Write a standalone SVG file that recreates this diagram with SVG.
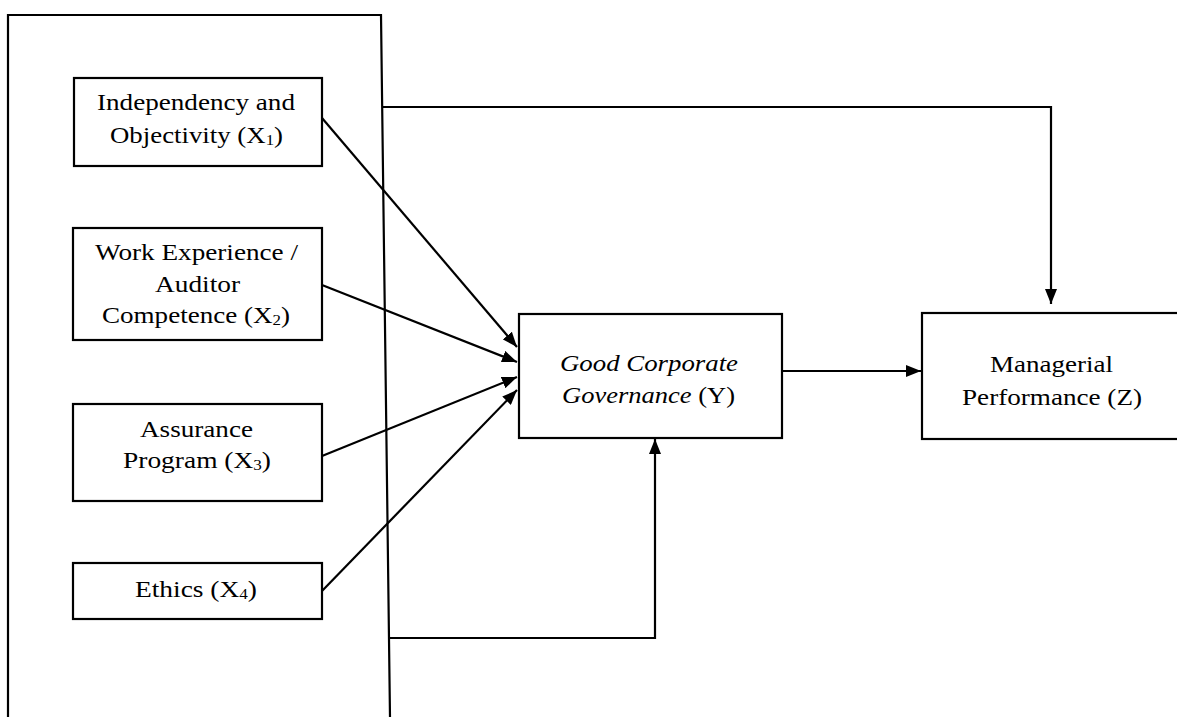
<svg xmlns="http://www.w3.org/2000/svg" width="1177" height="717" viewBox="0 0 1177 717">
<style>
.box{fill:#fff;stroke:#000;stroke-width:2.2}
.ln{fill:none;stroke:#000;stroke-width:2.2}
.t{font-family:"Liberation Serif","Times New Roman",serif;font-size:24px;fill:#000;text-anchor:middle}
.it{font-style:italic}
.sub{font-size:15px}
</style>
<defs>
<marker id="ah" markerUnits="userSpaceOnUse" markerWidth="15" markerHeight="12" viewBox="0 0 15 12" refX="15" refY="6" orient="auto">
<path d="M0,0 L15,6 L0,12 Z" fill="#000"/>
</marker>
</defs>
<rect width="1177" height="717" fill="#fff"/>
<g id="outer">
<path class="ln" d="M8,717 L8,15 L381,15 L390,717"/>
</g>
<g id="connectors">
<line class="ln" x1="322" y1="118" x2="517" y2="347" marker-end="url(#ah)"/>
<line class="ln" x1="322" y1="285" x2="517" y2="362" marker-end="url(#ah)"/>
<line class="ln" x1="322" y1="456" x2="517" y2="377" marker-end="url(#ah)"/>
<line class="ln" x1="322" y1="591" x2="517" y2="390" marker-end="url(#ah)"/>
<polyline class="ln" points="382,107 1051,107 1051,304" marker-end="url(#ah)"/>
<polyline class="ln" points="388,638 655,638 655,439" marker-end="url(#ah)"/>
<line class="ln" x1="782" y1="371" x2="921" y2="371" marker-end="url(#ah)"/>
</g>
<g id="x1">
<rect class="box" x="74" y="78" width="248" height="88"/>
<text class="t" x="196" y="110" textLength="198" lengthAdjust="spacingAndGlyphs">Independency and</text>
<text class="t" x="196.5" y="143" textLength="173" lengthAdjust="spacingAndGlyphs">Objectivity (X<tspan class="sub" dy="2">1</tspan><tspan dy="-2">)</tspan></text>
</g>
<g id="x2">
<rect class="box" x="73" y="228" width="249" height="112"/>
<text class="t" x="196.5" y="260" textLength="203" lengthAdjust="spacingAndGlyphs">Work Experience /</text>
<text class="t" x="197.5" y="292" textLength="85" lengthAdjust="spacingAndGlyphs">Auditor</text>
<text class="t" x="196" y="323" textLength="188" lengthAdjust="spacingAndGlyphs">Competence (X<tspan class="sub" dy="2">2</tspan><tspan dy="-2">)</tspan></text>
</g>
<g id="x3">
<rect class="box" x="73" y="404" width="249" height="97"/>
<text class="t" x="196.5" y="437" textLength="113" lengthAdjust="spacingAndGlyphs">Assurance</text>
<text class="t" x="197" y="468" textLength="148" lengthAdjust="spacingAndGlyphs">Program (X<tspan class="sub" dy="2">3</tspan><tspan dy="-2">)</tspan></text>
</g>
<g id="x4">
<rect class="box" x="73" y="563" width="249" height="56"/>
<text class="t" x="196" y="597" textLength="122" lengthAdjust="spacingAndGlyphs">Ethics (X<tspan class="sub" dy="2">4</tspan><tspan dy="-2">)</tspan></text>
</g>
<g id="y">
<rect class="box" x="519" y="314" width="263" height="124"/>
<text class="t it" x="649" y="371" textLength="178" lengthAdjust="spacingAndGlyphs">Good Corporate</text>
<text class="t" x="648.5" y="403" textLength="173" lengthAdjust="spacingAndGlyphs"><tspan class="it">Governance</tspan> (Y)</text>
</g>
<g id="z">
<rect class="box" x="922" y="313" width="262" height="126"/>
<text class="t" x="1051.5" y="372" textLength="123" lengthAdjust="spacingAndGlyphs">Managerial</text>
<text class="t" x="1052" y="405" textLength="180" lengthAdjust="spacingAndGlyphs">Performance (Z)</text>
</g>
</svg>
